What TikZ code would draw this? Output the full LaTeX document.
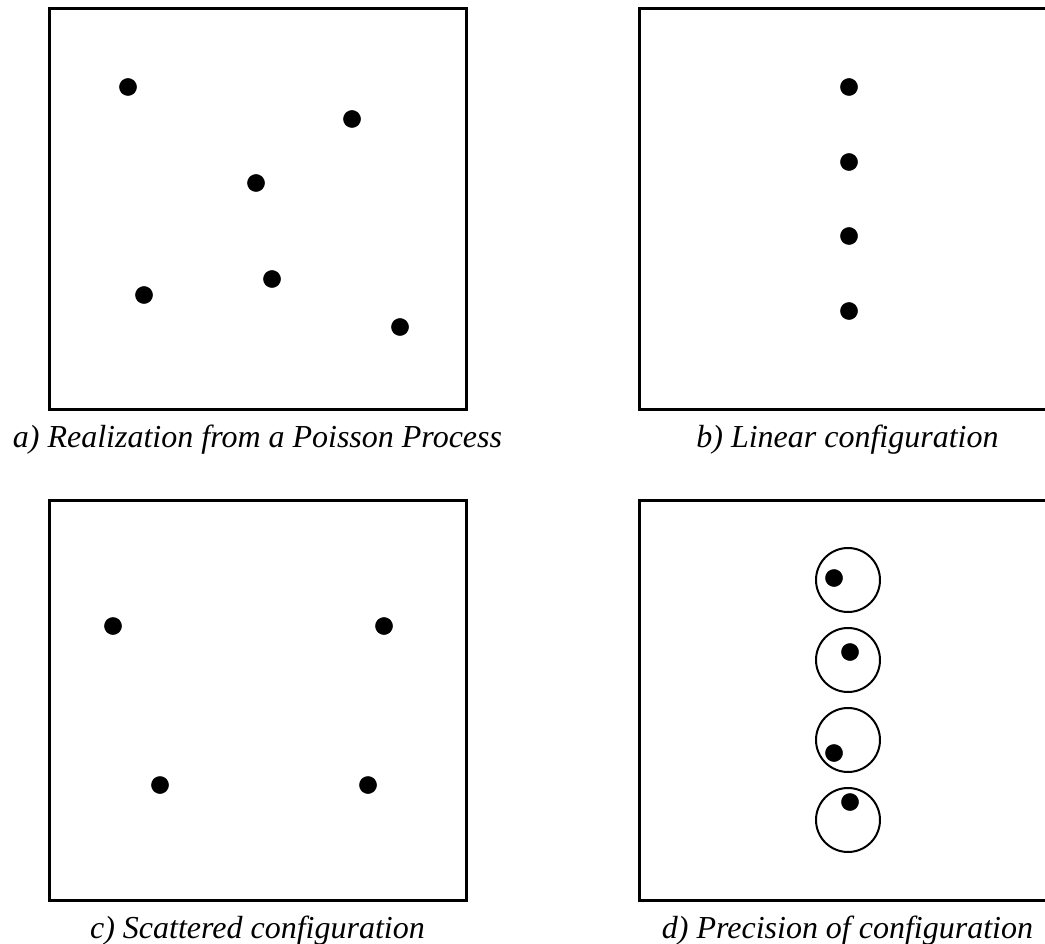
\documentclass[tikz,border=0pt]{standalone}
\usepackage{fontspec}
\setmainfont{Liberation Serif}
\usetikzlibrary{calc}

\begin{document}
\begin{tikzpicture}[x=1pt, y=-1pt, font=\fontsize{32}{38}\selectfont\itshape]

	\def \boxw{417};
	\def \boxh{400};
	\def \dotr{8.6pt};
	\def \ringr{32pt};

	\useasboundingbox (0,0) rectangle (1045,944);
	\clip (0,0) rectangle (1045,944);

	% frames
	\coordinate (frameA) at (49,9);
	\coordinate (frameB) at (639,9);
	\coordinate (frameC) at (49,500);
	\coordinate (frameD) at (639,500);
	\foreach \f in {frameA, frameB, frameC, frameD}
		\draw[line width=3pt] (\f) rectangle +(\boxw, \boxh);

	% captions
	\node[anchor=base] (captionA) at ($(frameA)+(208.5,438)$) {a) Realization from a Poisson Process};
	\node[anchor=base] (captionB) at ($(frameB)+(208.5,438)$) {b) Linear configuration};
	\node[anchor=base] (captionC) at ($(frameC)+(208.5,438)$) {c) Scattered configuration};
	\node[anchor=base] (captionD) at ($(frameD)+(208.5,438)$) {d) Precision of configuration};

	% points a)
	\foreach \px/\py [count=\i] in {128/87, 352/119, 256/183, 144/295, 272/279, 400/327}
		\filldraw[black] (\px,\py) circle (\dotr) node (poisson\i) {};

	% points b)
	\foreach \py [count=\i] in {87, 162, 236, 311}
		\filldraw[black] (849,\py) circle (\dotr) node (linear\i) {};

	% points c)
	\foreach \px/\py [count=\i] in {113/626, 384/626, 160/785, 368/785}
		\filldraw[black] (\px,\py) circle (\dotr) node (scatter\i) {};

	% rings and points d)
	\foreach \py/\dx/\dy [count=\i] in {580/-14/-2, 660/2/-8, 740/-14/13, 820/2/-18} {
		\draw[line width=2pt] (848,\py) circle (\ringr) node (ring\i) {};
		\filldraw[black] ($(ring\i)+(\dx,\dy)$) circle (\dotr) node (precise\i) {};
	}

\end{tikzpicture}
\end{document}
